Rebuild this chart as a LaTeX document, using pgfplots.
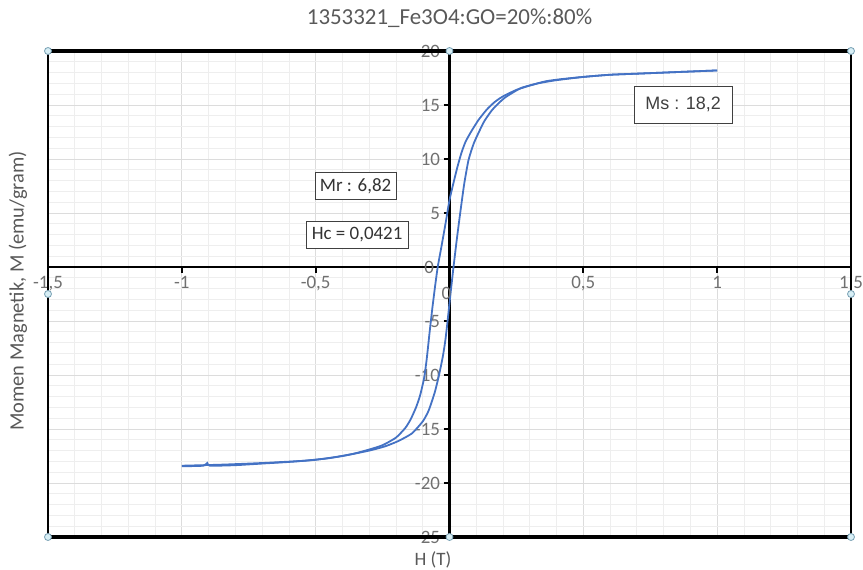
\documentclass[border=0pt]{standalone}
\usepackage{fontspec}
\setmainfont{Carlito}
\newfontfamily\arialf{Liberation Sans}
\usepackage{pgfplots}
\pgfplotsset{compat=1.18}

\definecolor{loopblue}{RGB}{68,114,196}
\definecolor{ticktxt}{RGB}{112,112,112}
\definecolor{titletxt}{RGB}{89,89,89}
\definecolor{minorgrid}{RGB}{238,238,238}
\definecolor{majorgrid}{RGB}{220,220,220}
\definecolor{handlefill}{RGB}{215,238,245}
\definecolor{handledraw}{RGB}{120,160,180}

\begin{document}
\begin{tikzpicture}
\path[use as bounding box] (-48bp,-33bp) rectangle (815bp,537bp);
\begin{axis}[
    name=ax, at={(0,0)}, anchor=south west,
    scale only axis, width=803bp, height=486bp,
    xmin=-1.5, xmax=1.5, ymin=-25, ymax=20,
    axis lines=middle,
    axis line style={black, line width=2.5bp, -},
    xtick={-1.5,-1,-0.5,0,0.5,1,1.5},
    ytick={-25,-20,-15,-10,-5,0,5,10,15,20},
    minor x tick num=4, minor y tick num=4,
    grid=both,
    major grid style={majorgrid, line width=0.8bp},
    minor grid style={minorgrid, line width=0.8bp},
    tick style={black, line width=2bp},
    major tick length=6bp, minor tick length=0pt,
    tick align=outside,
    ticklabel style={font=\fontsize{19}{22}\selectfont, text=ticktxt},
    /pgf/number format/assume math mode=true,
    /pgf/number format/use comma,
    clip=false,
]
% branche descendante (de +1 T vers -1 T)
\addplot[loopblue, line width=1.8bp, smooth, tension=0.35] coordinates {
(1.0,18.2) (0.9,18.1) (0.8,18.0) (0.7,17.9) (0.6,17.8) (0.5,17.6)
(0.42,17.4) (0.36,17.2) (0.3,16.8) (0.25,16.4) (0.2,15.8) (0.17,15.3)
(0.14,14.6) (0.108,13.6) (0.08,12.5) (0.06,11.6) (0.045,10.6) (0.03,9.3)
(0.015,7.8) (0,6.2) (-0.015,4.0) (-0.03,1.9) (-0.044,0) (-0.055,-2.0)
(-0.065,-4.0) (-0.075,-6.2) (-0.085,-8.5) (-0.095,-10.3) (-0.11,-11.9)
(-0.125,-13.0) (-0.145,-14.1) (-0.165,-14.9) (-0.2,-15.8) (-0.25,-16.5)
(-0.3,-16.9) (-0.36,-17.3) (-0.45,-17.7) (-0.55,-17.95) (-0.7,-18.15)
(-0.85,-18.3) (-1.0,-18.4)
};
% branche montante (de -1 T vers +1 T)
\addplot[loopblue, line width=1.8bp, smooth, tension=0.35] coordinates {
(-1.0,-18.45) (-0.92,-18.4) (-0.905,-18.15) (-0.895,-18.4) (-0.8,-18.35)
(-0.7,-18.2) (-0.6,-18.05) (-0.5,-17.85) (-0.4,-17.5) (-0.3,-17.0)
(-0.24,-16.6) (-0.19,-16.1) (-0.14,-15.4) (-0.1,-14.3) (-0.078,-13.3)
(-0.055,-11.6) (-0.04,-10.1) (-0.025,-8.3) (-0.015,-6.7) (-0.005,-4.5)
(0.005,-2.2) (0.015,0) (0.027,2.5) (0.04,5.0) (0.055,7.7) (0.071,9.9)
(0.09,11.4) (0.108,12.4) (0.13,13.5) (0.158,14.5) (0.185,15.2)
(0.208,15.7) (0.24,16.2) (0.27,16.6) (0.33,17.0) (0.4,17.3) (0.5,17.6)
(0.6,17.8) (0.7,17.9) (0.8,18.0) (0.9,18.1) (1.0,18.2)
};
% labels 0 (masques par axis lines=middle)
\node[font=\fontsize{19}{22}\selectfont, text=ticktxt, anchor=east]
  at ([xshift=-12bp]axis cs:0,0) {0};
\node[font=\fontsize{19}{22}\selectfont, text=ticktxt]
  at ([xshift=-3bp,yshift=-26bp]axis cs:0,0) {0};
\node[draw=black!75, fill=white, font=\fontsize{19}{22}\selectfont,
      text=black!80, inner xsep=5bp, minimum height=27bp]
      at (axis cs:-0.351,7.5) {Mr : 6,82};
\node[draw=black!75, fill=white, font=\fontsize{19}{22}\selectfont,
      text=black!80, inner xsep=6bp, minimum height=27bp]
      at (axis cs:-0.345,3.0) {Hc = 0,0421};
\node[draw=black!75, fill=white, font=\arialf\fontsize{18}{22}\selectfont,
      text=black!75, inner xsep=11bp, minimum height=37bp]
      at (axis cs:0.873,15.05) {Ms : 18,2};
\end{axis}
\draw[black, line width=2.5bp] (ax.south west) rectangle (ax.north east);
\draw[black, line width=3.5bp] (ax.north west) -- (ax.north east);
\draw[black, line width=3.5bp] (ax.south west) -- (ax.south east);
\foreach \p in {south west,south,south east,west,east,north west,north,north east}
  \draw[handledraw, fill=handlefill, line width=0.8bp] (ax.\p) circle[radius=3.5bp];
\node[font=\fontsize{23}{26}\selectfont, text=titletxt]
  at ([yshift=33bp]ax.north) {1353321\_Fe3O4:GO=20\%:80\%};
\node[font=\fontsize{19}{22}\selectfont, text=titletxt]
  at ([xshift=385bp,yshift=-23bp]ax.south west) {H (T)};
\node[font=\fontsize{20.5}{23}\selectfont, text=titletxt, rotate=90]
  at ([xshift=-30bp,yshift=246bp]ax.south west) {Momen Magnetik, M (emu/gram)};
\end{tikzpicture}
\end{document}
